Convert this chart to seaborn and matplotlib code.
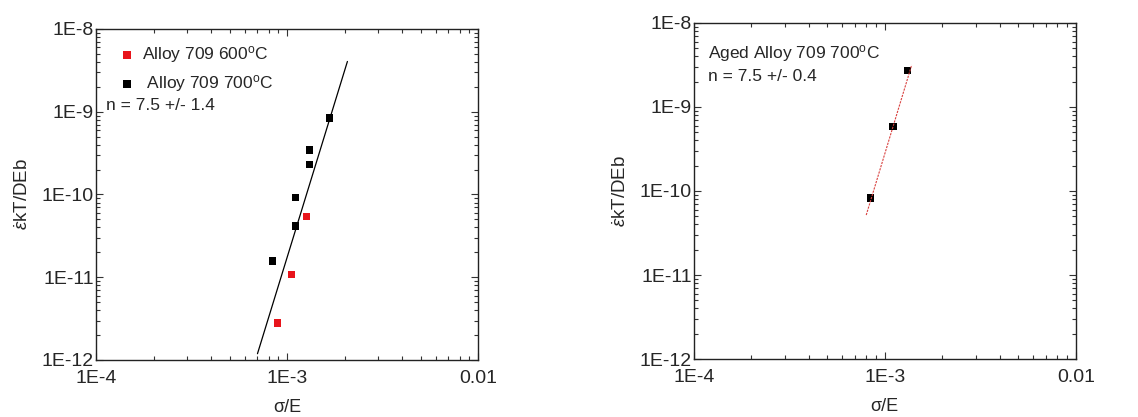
import numpy as np
import pandas as pd
import matplotlib
matplotlib.use("Agg")
import matplotlib.pyplot as plt
import matplotlib.ticker as mticker
import seaborn as sns

# Unaged Alloy 709 creep data (normalised stress vs. normalised strain rate)
stress_600 = [8.9e-4, 1.054e-3, 1.258e-3]
rate_600 = [2.8e-12, 1.08e-11, 5.45e-11]

stress_700 = [8.35e-4, 1.105e-3, 1.105e-3, 1.315e-3, 1.315e-3, 1.665e-3]
rate_700 = [1.57e-11, 4.16e-11, 9.16e-11, 2.29e-10, 3.45e-10, 8.4e-10]

# Aged Alloy 709 at 700 C
stress_aged = [8.38e-4, 1.105e-3, 1.32e-3]
rate_aged = [8.26e-11, 5.83e-10, 2.75e-9]

# Power-law fits: log10(rate) = n * log10(stress) + b
n_unaged = 7.5
fit_unaged_x = [7.0e-4, 2.07e-3]
fit_unaged_anchor = (1.205e-3, 7.0e-11)

n_aged = 7.5
fit_aged_x = [8.0e-4, 1.384e-3]
fit_aged_anchor = (1.105e-3, 5.83e-10)

labels = ["Alloy 709 600$^{\\rm o}$C", " Alloy 709 700$^{\\rm o}$C"]

sns.set_style("ticks")
plt.rcParams["font.family"] = ["Liberation Sans", "DejaVu Sans"]
plt.rcParams["mathtext.fontset"] = "custom"
plt.rcParams["mathtext.rm"] = "Liberation Sans"
plt.rcParams["mathtext.it"] = "Liberation Sans:italic"
plt.rcParams["mathtext.bf"] = "Liberation Sans:bold"

TICK_FS = 14
TEXT_FS = 12.5
MARKER_S = 26


def power_line(xs, n, anchor):
    xs = np.geomspace(xs[0], xs[1], 50)
    x0, y0 = anchor
    return pd.DataFrame({"x": xs, "y": y0 * (xs / x0) ** n})


def e_fmt(v, pos):
    exp = int(round(np.log10(v)))
    if exp == -2:
        return "0.01"
    return f"1E{exp}"


def style_axes(ax):
    ax.set_xscale("log")
    ax.set_yscale("log")
    ax.set_xlim(1e-4, 1e-2)
    ax.set_ylim(1e-12, 1e-8)
    ax.xaxis.set_major_locator(mticker.LogLocator(base=10, numticks=10))
    ax.yaxis.set_major_locator(mticker.LogLocator(base=10, numticks=10))
    ax.xaxis.set_minor_locator(mticker.LogLocator(base=10, subs=np.arange(2, 10), numticks=20))
    ax.yaxis.set_minor_locator(mticker.LogLocator(base=10, subs=np.arange(2, 10), numticks=20))
    ax.xaxis.set_major_formatter(mticker.FuncFormatter(e_fmt))
    ax.yaxis.set_major_formatter(mticker.FuncFormatter(e_fmt))
    ax.xaxis.set_minor_formatter(mticker.NullFormatter())
    ax.yaxis.set_minor_formatter(mticker.NullFormatter())
    ax.tick_params(which="both", direction="in", top=True, right=True,
                   width=0.8, color="#333333")
    ax.tick_params(which="major", length=5, labelsize=TICK_FS)
    ax.tick_params(axis="x", which="major", pad=7)
    ax.tick_params(axis="y", which="major", pad=1.5)
    ax.tick_params(which="minor", length=3)
    for s in ax.spines.values():
        s.set_linewidth(1.0)
        s.set_color("#222222")
    ax.set_xlabel("σ/E", fontsize=13, labelpad=9)
    ax.set_ylabel("$\\dot{\\varepsilon}$kT/DEb", fontsize=13.5, labelpad=7)


fig = plt.figure(figsize=(11.38, 4.17), dpi=100)
ax1 = fig.add_axes([0.0844, 0.1367, 0.3357, 0.7938])
ax2 = fig.add_axes([0.6096, 0.139, 0.3357, 0.806])

# Left panel
line1 = power_line(fit_unaged_x, n_unaged, fit_unaged_anchor)
sns.lineplot(data=line1, x="x", y="y", ax=ax1, color="black", lw=0.9, legend=False)
sns.scatterplot(x=stress_600, y=rate_600, ax=ax1, marker="s", s=MARKER_S,
                color="#e8141b", edgecolor="none", label=labels[0])
sns.scatterplot(x=stress_700, y=rate_700, ax=ax1, marker="s", s=MARKER_S,
                color="black", edgecolor="none", label=labels[1])
style_axes(ax1)
leg = ax1.legend(loc="upper left", bbox_to_anchor=(0.035, 0.975), frameon=False,
                 fontsize=TEXT_FS, handletextpad=0.3, handlelength=1.2,
                 borderaxespad=0, labelspacing=0.45, markerscale=1.1)
ax1.text(0.027, 0.77, "n = 7.5 +/- 1.4", transform=ax1.transAxes,
         fontsize=TEXT_FS, va="center", ha="left")

# Right panel
line2 = power_line(fit_aged_x, n_aged, fit_aged_anchor)
sns.lineplot(data=line2, x="x", y="y", ax=ax2, color="#d9413f", lw=0.8,
             linestyle=(0, (2, 1)), legend=False)
sns.scatterplot(x=stress_aged, y=rate_aged, ax=ax2, marker="s", s=MARKER_S,
                color="black", edgecolor="none", legend=False)
style_axes(ax2)
ax2.text(0.037, 0.91, "Aged Alloy 709 700$^{\\rm o}$C", transform=ax2.transAxes,
         fontsize=TEXT_FS, va="center", ha="left")
ax2.text(0.037, 0.84, "n = 7.5 +/- 0.4", transform=ax2.transAxes,
         fontsize=TEXT_FS, va="center", ha="left")

fig.savefig("out.png", dpi=100, facecolor="white")
